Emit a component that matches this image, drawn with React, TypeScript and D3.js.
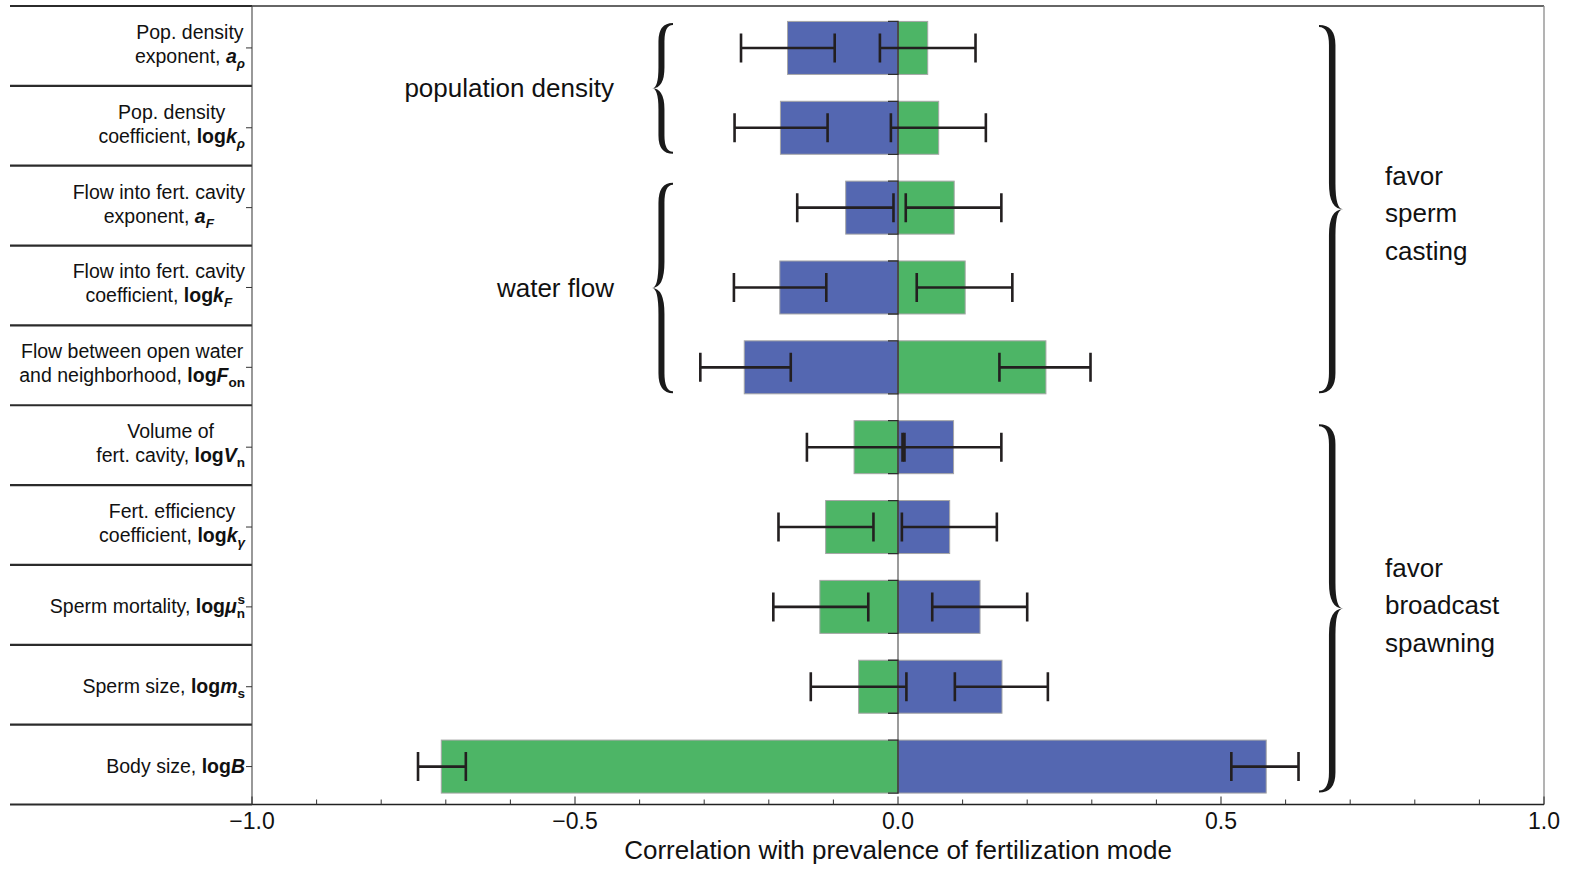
import React, { useEffect, useRef } from "react";
import * as d3 from "d3";

// ---------------- data ----------------
const labelLine1 = [
  "Pop. density",
  "Pop. density",
  "Flow into fert. cavity",
  "Flow into fert. cavity",
  "Flow between open water",
  "Volume of",
  "Fert. efficiency",
  "",
  "",
  "",
];
const labelLine2 = [
  "exponent, ",
  "coefficient, ",
  "exponent, ",
  "coefficient, ",
  "and neighborhood, ",
  "fert. cavity, ",
  "coefficient, ",
  "Sperm mortality, ",
  "Sperm size, ",
  "Body size, ",
];
const symbolLog = [false, true, false, true, true, true, true, true, true, true];
const symbolVar = ["a", "k", "a", "k", "F", "V", "k", "μ", "m", "B"];
const symbolSub = ["ρ", "ρ", "F", "F", "on", "n", "γ", "n", "s", ""];
const symbolSubItalic = [true, true, true, true, false, false, true, false, false, false];
const symbolSup = ["", "", "", "", "", "", "", "s", "", ""];

const blueValues = [-0.171, -0.182, -0.081, -0.183, -0.238, 0.086, 0.08, 0.127, 0.161, 0.57];
const greenValues = [0.046, 0.063, 0.087, 0.104, 0.229, -0.068, -0.112, -0.121, -0.061, -0.707];
const blueErrLow = [-0.243, -0.253, -0.156, -0.254, -0.306, 0.01, 0.006, 0.053, 0.088, 0.516];
const blueErrHigh = [-0.098, -0.109, -0.007, -0.111, -0.166, 0.16, 0.153, 0.2, 0.232, 0.62];
const greenErrLow = [-0.028, -0.011, 0.012, 0.029, 0.157, -0.141, -0.185, -0.193, -0.135, -0.743];
const greenErrHigh = [0.12, 0.136, 0.16, 0.177, 0.298, 0.007, -0.038, -0.046, 0.013, -0.669];

const xMajorTicks = [-1, -0.5, 0, 0.5, 1];
const xMajorLabels = ["−1.0", "−0.5", "0.0", "0.5", "1.0"];
const xMinorTicks = [-0.9, -0.8, -0.7, -0.6, -0.4, -0.3, -0.2, -0.1, 0.1, 0.2, 0.3, 0.4, 0.6, 0.7, 0.8, 0.9];
const xTitle = "Correlation with prevalence of fertilization mode";

const groupLabels = ["population density", "water flow"];
const groupFirstRow = [0, 2];
const groupLastRow = [1, 4];

const modeLines = [
  ["favor", "sperm", "casting"],
  ["favor", "broadcast", "spawning"],
];
const modeFirstRow = [0, 5];
const modeLastRow = [4, 9];

// ---------------- style / layout ----------------
const W = 1573;
const H = 871;
const FONT = "'Liberation Sans', Arial, Helvetica, sans-serif";
const BLUE = "#5467b1";
const GREEN = "#4db566";
const PLOT_L = 252;
const PLOT_R = 1544;
const PLOT_T = 6;
const PLOT_B = 804.5;
const SEP_L = 10;
const LABEL_R = 245;
const BAR_H = 53;
const CAP = 14.5;

function bracePath(xEnd: number, xTip: number, yt: number, yb: number, t: number) {
  const dir = xTip > xEnd ? 1 : -1;
  const h = yb - yt;
  const ym = (yt + yb) / 2;
  const xs = xEnd + (xTip - xEnd) * 0.55;
  const e = Math.min(0.14 * h, 20);
  const m = Math.min(0.16 * h, 26);
  const so = xs + (dir * t) / 2;
  const si = xs - (dir * t) / 2;
  const te = 2;
  return [
    `M${xEnd},${yt}`,
    `Q${so},${yt} ${so},${yt + e}`,
    `L${so},${ym - m}`,
    `Q${so},${ym} ${xTip},${ym}`,
    `Q${so},${ym} ${so},${ym + m}`,
    `L${so},${yb - e}`,
    `Q${so},${yb} ${xEnd},${yb}`,
    `L${xEnd},${yb - te}`,
    `Q${si},${yb - te} ${si},${yb - e}`,
    `L${si},${ym + m}`,
    `Q${si},${ym} ${xTip},${ym}`,
    `Q${si},${ym} ${si},${ym - m}`,
    `L${si},${yt + e}`,
    `Q${si},${yt + te} ${xEnd},${yt + te}`,
    "Z",
  ].join(" ");
}

export default function App() {
  const ref = useRef<SVGSVGElement>(null);

  useEffect(() => {
    const draw = () => {
      if (!ref.current) return;
      const svg = d3.select(ref.current);
      svg.selectAll("*").remove();
      svg.attr("font-family", FONT);

      const x = d3.scaleLinear().domain([-1, 1]).range([PLOT_L, PLOT_R]);
      const rows = d3.range(blueValues.length);
      const y = d3.scaleBand<number>().domain(rows).range([PLOT_T, PLOT_B]);
      const cy = (i: number) => (y(i) as number) + y.bandwidth() / 2 + 2;
      const x0 = x(0);

      // separators in label area
      const sepYs = rows.map((i) => y(i) as number).concat([PLOT_B]);
      svg
        .append("g")
        .selectAll("line")
        .data(sepYs)
        .join("line")
        .attr("x1", SEP_L)
        .attr("x2", PLOT_L)
        .attr("y1", (d) => d)
        .attr("y2", (d) => d)
        .attr("stroke", "#2b2b2b")
        .attr("stroke-width", 2.2);

      // frame
      svg.append("line").attr("x1", PLOT_L).attr("x2", PLOT_R).attr("y1", PLOT_T).attr("y2", PLOT_T).attr("stroke", "#333").attr("stroke-width", 1.3);
      svg.append("line").attr("x1", PLOT_R).attr("x2", PLOT_R).attr("y1", PLOT_T).attr("y2", PLOT_B).attr("stroke", "#8a8a8a").attr("stroke-width", 1.3);
      svg.append("line").attr("x1", PLOT_L).attr("x2", PLOT_L).attr("y1", PLOT_T).attr("y2", PLOT_B).attr("stroke", "#444").attr("stroke-width", 1.1);
      svg.append("line").attr("x1", PLOT_L).attr("x2", PLOT_R).attr("y1", PLOT_B).attr("y2", PLOT_B).attr("stroke", "#222").attr("stroke-width", 1.6);

      // x ticks
      svg
        .append("g")
        .selectAll("line")
        .data(xMinorTicks)
        .join("line")
        .attr("x1", (d) => x(d))
        .attr("x2", (d) => x(d))
        .attr("y1", PLOT_B)
        .attr("y2", PLOT_B - 5)
        .attr("stroke", "#333")
        .attr("stroke-width", 1);
      svg
        .append("g")
        .selectAll("line")
        .data(xMajorTicks)
        .join("line")
        .attr("x1", (d) => x(d))
        .attr("x2", (d) => x(d))
        .attr("y1", PLOT_B)
        .attr("y2", PLOT_B - 8)
        .attr("stroke", "#333")
        .attr("stroke-width", 1.1);
      svg
        .append("g")
        .selectAll("text")
        .data(xMajorTicks)
        .join("text")
        .attr("x", (d) => x(d))
        .attr("y", 829)
        .attr("text-anchor", "middle")
        .attr("font-size", 23)
        .attr("fill", "#111")
        .text((d, i) => xMajorLabels[i]);
      svg
        .append("text")
        .attr("x", (PLOT_L + PLOT_R) / 2)
        .attr("y", 859)
        .attr("text-anchor", "middle")
        .attr("font-size", 26)
        .attr("fill", "#111")
        .text(xTitle);

      // y ticks
      svg
        .append("g")
        .selectAll("line")
        .data(rows)
        .join("line")
        .attr("x1", PLOT_L - 6)
        .attr("x2", PLOT_L)
        .attr("y1", (i) => cy(i))
        .attr("y2", (i) => cy(i))
        .attr("stroke", "#333")
        .attr("stroke-width", 1);

      // bars
      const drawBars = (vals: number[], color: string) => {
        svg
          .append("g")
          .selectAll("rect")
          .data(rows)
          .join("rect")
          .attr("x", (i) => x(Math.min(0, vals[i])))
          .attr("width", (i) => Math.abs(x(vals[i]) - x0))
          .attr("y", (i) => cy(i) - BAR_H / 2)
          .attr("height", BAR_H)
          .attr("fill", color)
          .attr("stroke", "#a6a6a6")
          .attr("stroke-width", 1);
      };
      drawBars(blueValues, BLUE);
      drawBars(greenValues, GREEN);

      // zero line
      svg
        .append("line")
        .attr("x1", x0)
        .attr("x2", x0)
        .attr("y1", cy(0) - BAR_H / 2)
        .attr("y2", cy(rows.length - 1) + BAR_H / 2)
        .attr("stroke", "#7a7a7a")
        .attr("stroke-width", 1.5);

      // dark bracket at the zero edge of each negative bar
      svg
        .append("g")
        .selectAll("path")
        .data(rows)
        .join("path")
        .attr("d", (i) => {
          const t = cy(i) - BAR_H / 2;
          const b = cy(i) + BAR_H / 2;
          return `M${x0 - 10},${t} H${x0} V${b} H${x0 - 10}`;
        })
        .attr("fill", "none")
        .attr("stroke", "#2e2e2e")
        .attr("stroke-width", 1.3);

      // error bars
      const drawErr = (lo: number[], hi: number[]) => {
        const g = svg.append("g").attr("stroke", "#231f20").attr("stroke-width", 2.6).attr("fill", "none");
        g.selectAll("path")
          .data(rows)
          .join("path")
          .attr("d", (i) => {
            const a = x(lo[i]);
            const b = x(hi[i]);
            const c = cy(i);
            return `M${a},${c - CAP} V${c + CAP} M${a},${c} H${b} M${b},${c - CAP} V${c + CAP}`;
          });
      };
      drawErr(blueErrLow, blueErrHigh);
      drawErr(greenErrLow, greenErrHigh);

      // category labels
      rows.forEach((i) => {
        const g = svg.append("g").attr("fill", "#111");
        const c = cy(i);
        const two = labelLine1[i] !== "";
        const y2 = two ? c + 15 : c + 6;
        const t2 = g.append("text").attr("y", y2).attr("text-anchor", "middle").attr("font-size", 19.5);
        t2.append("tspan").text(labelLine2[i]);
        if (symbolLog[i]) t2.append("tspan").attr("font-weight", "bold").text("log");
        t2.append("tspan").attr("font-weight", "bold").attr("font-style", "italic").text(symbolVar[i]);
        if (symbolSub[i])
          t2.append("tspan")
            .attr("font-size", 13.5)
            .attr("font-weight", "bold")
            .attr("font-style", symbolSubItalic[i] ? "italic" : "normal")
            .attr("dy", 5)
            .text(symbolSub[i]);
        const w2 = (t2.node() as SVGTextElement).getComputedTextLength();
        let w1 = 0;
        let t1: any = null;
        if (two) {
          t1 = g.append("text").attr("y", c - 9).attr("text-anchor", "middle").attr("font-size", 19.5).text(labelLine1[i]);
          w1 = (t1.node() as SVGTextElement).getComputedTextLength();
        }
        const cx = LABEL_R - Math.max(w1, w2) / 2;
        t2.attr("x", cx);
        if (t1) t1.attr("x", cx);
        if (symbolSup[i]) {
          g.append("text")
            .attr("x", cx + w2 / 2)
            .attr("y", y2 - 9)
            .attr("text-anchor", "end")
            .attr("font-size", 13.5)
            .attr("font-weight", "bold")
            .text(symbolSup[i]);
        }
      });

      // group braces (left) and labels
      groupLabels.forEach((lab, k) => {
        const yt = cy(groupFirstRow[k]) - 25;
        const yb = cy(groupLastRow[k]) + 26;
        const ym = (yt + yb) / 2;
        svg.append("path").attr("d", bracePath(673, 652, yt, yb, 6)).attr("fill", "#1a1a1a");
        svg
          .append("text")
          .attr("x", 614)
          .attr("y", ym + 9)
          .attr("text-anchor", "end")
          .attr("font-size", 26)
          .attr("fill", "#111")
          .text(lab);
      });

      // mode braces (right) and labels
      const modeDy = [13, 6];
      modeLines.forEach((lines, k) => {
        const yt = cy(modeFirstRow[k]) - 23;
        const yb = cy(modeLastRow[k]) + 26;
        const ym = (yt + yb) / 2;
        svg.append("path").attr("d", bracePath(1319, 1343, yt, yb, 6.5)).attr("fill", "#1a1a1a");
        const t = svg.append("text").attr("font-size", 26).attr("fill", "#111");
        lines.forEach((ln, j) => {
          t.append("tspan")
            .attr("x", 1385)
            .attr("y", ym + modeDy[k] + (j - 1) * 37.5)
            .text(ln);
        });
      });
    };
    draw();
    if ((document as any).fonts && (document as any).fonts.ready) {
      (document as any).fonts.ready.then(draw);
    }
  }, []);

  return (
    <svg
      ref={ref}
      width={W}
      height={H}
      viewBox={`0 0 ${W} ${H}`}
      style={{ position: "absolute", left: 0, top: 0, background: "#ffffff", display: "block" }}
    />
  );
}
